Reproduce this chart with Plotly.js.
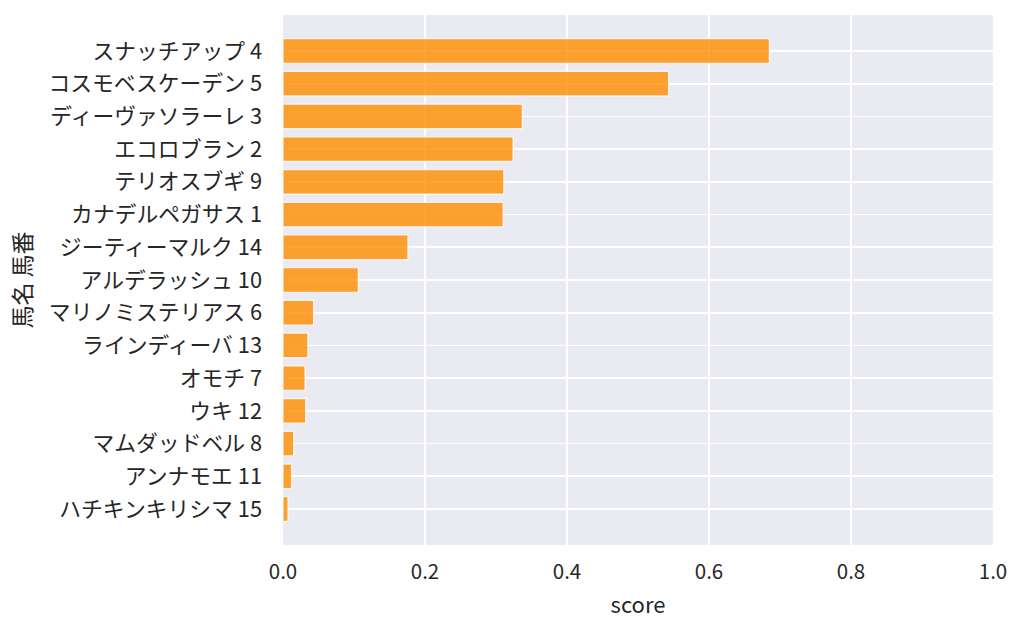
<!DOCTYPE html>
<html>
<head>
<meta charset="utf-8">
<script src="https://cdn.plot.ly/plotly-3.0.1.min.js"></script>
<style>
  html, body { margin: 0; padding: 0; background: #fff; }
  #chart { width: 1024px; height: 634px; }
</style>
</head>
<body>
<div id="chart"></div>
<script>
// horse name + number, top to bottom
const horses = [
    'スナッチアップ 4', 'コスモベスケーデン 5', 'ディーヴァソラーレ 3', 'エコロブラン 2',
    'テリオスブギ 9', 'カナデルペガサス 1', 'ジーティーマルク 14', 'アルデラッシュ 10',
    'マリノミステリアス 6', 'ラインディーバ 13', 'オモチ 7', 'ウキ 12',
    'マムダッドベル 8', 'アンナモエ 11', 'ハチキンキリシマ 15'
];
const scores = [
    0.685, 0.543, 0.337, 0.324,
    0.311, 0.310, 0.176, 0.106,
    0.043, 0.035, 0.031, 0.032,
    0.015, 0.012, 0.007
];
const xTicks = [0, 0.2, 0.4, 0.6, 0.8, 1.0];
const xTickText = ['0.0', '0.2', '0.4', '0.6', '0.8', '1.0'];

const FONT = '"Noto Sans CJK JP", "Noto Sans", sans-serif';

const trace = {
    type: 'bar',
    orientation: 'h',
    x: scores,
    y: horses,
    width: 0.75,
    marker: {
        color: 'rgba(255,140,0,0.8)',
        line: { color: 'rgba(255,255,255,0.8)', width: 1.2 },
    },
    hoverinfo: 'x+y',
};

const layout = {
    width: 1024,
    height: 634,
    showlegend: false,
    paper_bgcolor: '#ffffff',
    plot_bgcolor: '#EAEAF2',
    font: { family: FONT, size: 20, color: '#262626' },
    margin: { l: 283, r: 31, t: 15, b: 89 },
    xaxis: {
        range: [0, 1],
        tickvals: xTicks,
        ticktext: xTickText,
        tickfont: { size: 20.5 },
        showgrid: true,
        gridcolor: '#ffffff',
        gridwidth: 1.6,
        zeroline: false,
        showline: false,
        ticks: '',
        ticklabelstandoff: 12,
        title: { text: 'score', font: { size: 22 }, standoff: 14 },
    },
    yaxis: {
        type: 'category',
        categoryorder: 'array',
        categoryarray: horses,
        range: [14 + 1.1, -1.1],
        tickfont: { size: 21.8 },
        showgrid: true,
        gridcolor: '#ffffff',
        gridwidth: 1.6,
        zeroline: false,
        showline: false,
        ticks: '',
        ticklabelstandoff: 20,
        title: { text: '馬名 馬番', font: { size: 23 }, standoff: 10 },
    },
};

Plotly.newPlot('chart', [trace], layout, { displayModeBar: false, staticPlot: true });
</script>
</body>
</html>
